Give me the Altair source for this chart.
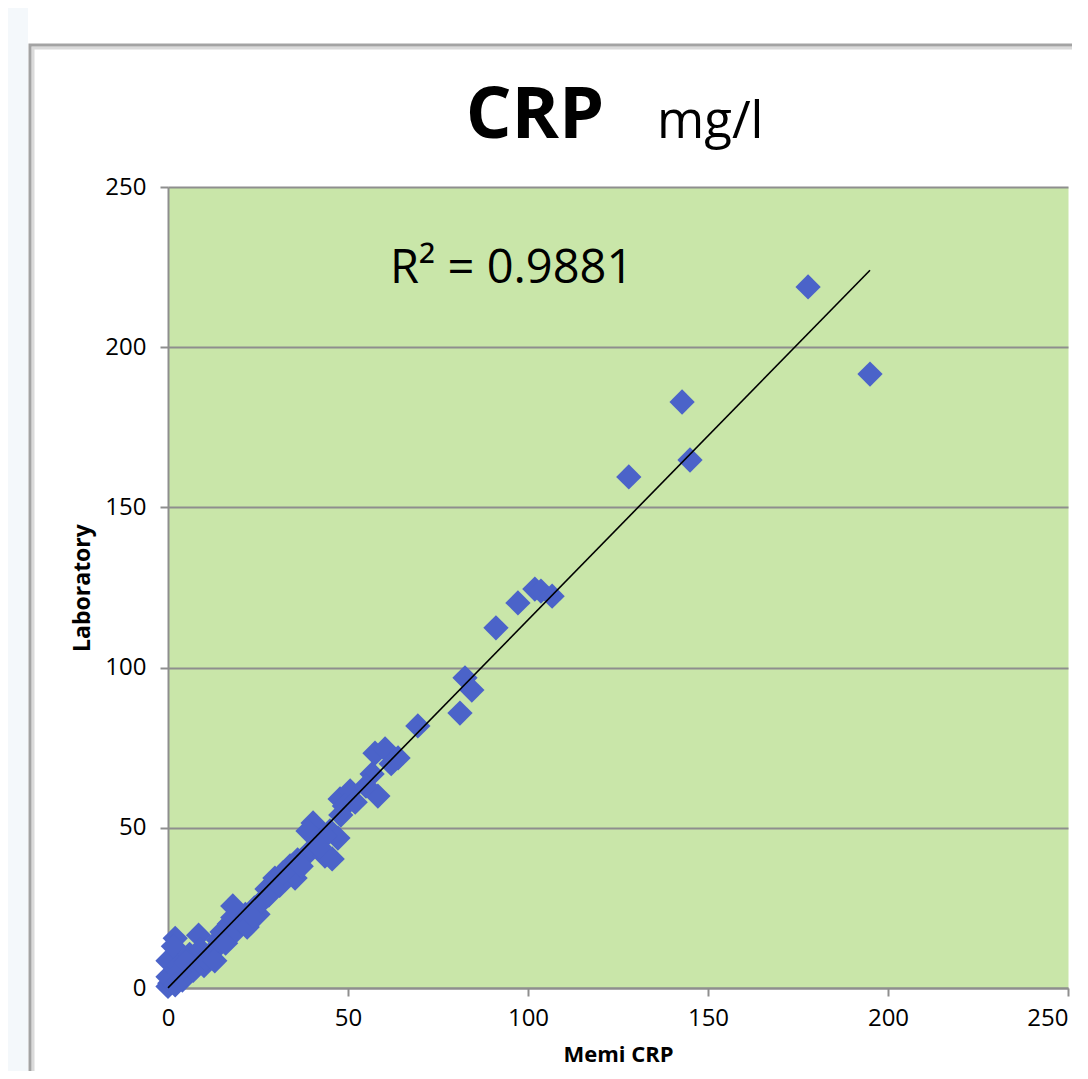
import altair as alt
import pandas as pd

# ---- data ----
memi = [0, 0.5, 0, 1, 0, 2, 1.5, 3, 4, 5, 6, 7, 8.5, 9, 10, 10.5, 12, 13, 14, 15,
        16, 17, 18, 19, 20, 21.5, 22, 24, 25, 3, 5, 2,
        18, 23.6, 27.5, 29.7, 33.9, 35.3, 38.9, 43.6, 41.4, 26, 28, 31, 32, 36, 37,
        40.3, 38.9, 45, 47.2, 45.6, 43.6, 47.8, 50.6, 49, 52, 56.7, 58.3, 57.5, 60.3,
        63.9, 62, 69.4, 55, 48, 42,
        81.1, 82.5, 84.4, 91.1, 97.2, 101.9, 103.6, 106.7,
        128, 142.8, 145, 177.8, 195]
lab = [0.5, 1.5, 3.5, 9, 8.5, 15.5, 13, 7, 2.5, 4, 10.5, 5.5, 16.5, 12, 7, 9, 11, 8.5, 15, 17.5,
       14, 20, 22, 18, 21, 23, 19, 25, 23, 5, 8, 1,
       25.6, 22.5, 30.9, 34.3, 38.1, 34.3, 42.1, 41.2, 46.8, 27, 29, 32, 36, 40, 38,
       51.5, 49, 49, 46.8, 40.3, 47.4, 59, 61.5, 56.8, 58, 66.8, 59.9, 73.3, 74.6,
       71.8, 70, 81.8, 63, 54, 44,
       85.8, 96.8, 93.0, 112.4, 120.2, 124.5, 123.9, 122.3,
       159.5, 182.9, 164.8, 218.8, 191.6]
tick_values = [0, 50, 100, 150, 200, 250]
r2_label = "R² = 0.9881"
title_main = "CRP"
title_unit = "mg/l"
x_title = "Memi CRP"
y_title = "Laboratory"

df = pd.DataFrame({"Memi CRP": memi, "Laboratory": lab})

W, H = 900, 801
BLUE = "#4B63C9"
GRID = "#8E8E8E"
FONT = "Open Sans"

xs = alt.Scale(domain=[0, 250], nice=False)
ys = alt.Scale(domain=[0, 250], nice=False)

x_axis = alt.Axis(values=tick_values, grid=False, domainColor=GRID, domainWidth=2,
                  tickColor=GRID, tickWidth=2, tickSize=8, labelFlush=False,
                  labelAlign=alt.condition("datum.value == 250", alt.value("right"),
                                           alt.value("center")),
                  labelFont=FONT, labelFontSize=24, labelColor="black", labelPadding=10,
                  title=x_title, titleFont=FONT, titleFontSize=22, titleFontWeight="bold",
                  titleColor="black", titleX=W / 2, titleY=66, titleBaseline="middle",
                  titleAlign="center")
y_axis = alt.Axis(values=tick_values, grid=True, gridColor=GRID, gridWidth=2,
                  domainColor=GRID, domainWidth=2, tickColor=GRID, tickWidth=2, tickSize=8,
                  labelFont=FONT, labelFontSize=24, labelColor="black", labelPadding=14,
                  title=y_title, titleFont=FONT, titleFontSize=23, titleFontWeight="bold",
                  titleColor="black", titleAngle=270, titleX=-86, titleY=H / 2,
                  titleBaseline="middle", titleAlign="center")

one = alt.Data(values=[{"k": 0}])

strip = alt.Chart(one).mark_rect(fill="#F4F8FB", strokeWidth=0).encode(
    x=alt.value(-170), x2=alt.value(-140), y=alt.value(-190), y2=alt.value(H + 100))
shadow = alt.Chart(one).mark_rect(fill="transparent", stroke="#DADADA", strokeWidth=3).encode(
    x=alt.value(-135), x2=alt.value(W + 100), y=alt.value(-139), y2=alt.value(H + 100))
frame = alt.Chart(one).mark_rect(fill="transparent", stroke="#A3A3A3", strokeWidth=3).encode(
    x=alt.value(-138), x2=alt.value(W + 100), y=alt.value(-142), y2=alt.value(H + 100))

points = alt.Chart(df).mark_point(shape="diamond", filled=True, size=640, color=BLUE,
                                  opacity=1).encode(
    x=alt.X("Memi CRP:Q", scale=xs, axis=x_axis),
    y=alt.Y("Laboratory:Q", scale=ys, axis=y_axis))

trend = alt.Chart(df).transform_regression("Memi CRP", "Laboratory").mark_line(
    color="black", strokeWidth=1.6).encode(
    x=alt.X("Memi CRP:Q", scale=xs), y=alt.Y("Laboratory:Q", scale=ys))

r2 = alt.Chart(one).mark_text(text=r2_label, font=FONT, fontSize=47, color="black",
                              align="left", baseline="alphabetic").encode(
    x=alt.value(222), y=alt.value(96))
t_main = alt.Chart(one).mark_text(text=title_main, font=FONT, fontSize=72, fontWeight="bold",
                                  color="black", align="center", baseline="alphabetic").encode(
    x=alt.value(367), y=alt.value(-49))
t_unit = alt.Chart(one).mark_text(text=title_unit, font=FONT, fontSize=51, color="black",
                                  align="left", baseline="alphabetic").encode(
    x=alt.value(489), y=alt.value(-49))

chart = alt.layer(strip, shadow, frame, points, trend, r2, t_main, t_unit).properties(
    width=W, height=H,
    padding={"left": 160, "top": 179, "right": 4, "bottom": 83},
    autosize=alt.AutoSizeParams(type="none"),
    background="white",
).configure_view(fill="#C9E6A9", stroke="transparent")

chart.save("out.html", embed_options={"renderer": "svg", "actions": False})
